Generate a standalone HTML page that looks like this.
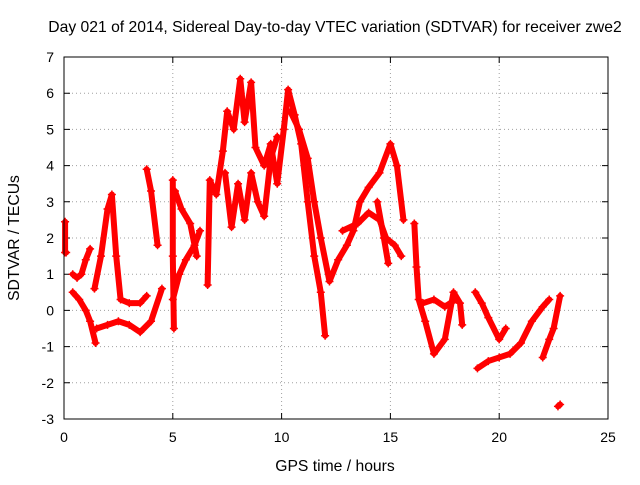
<!DOCTYPE html>
<html><head><meta charset="utf-8"><style>
body{margin:0;background:#fff}
svg text{font-family:"Liberation Sans",sans-serif;font-size:14px;fill:#000}
svg text.big{font-size:15.7px}
</style></head><body>
<svg id="chart" width="640" height="480" xmlns="http://www.w3.org/2000/svg">
<rect width="640" height="480" fill="#fff"/>
<text class="big" x="335" y="32" text-anchor="middle">Day 021 of 2014, Sidereal Day-to-day VTEC variation (SDTVAR) for receiver zwe2</text>
<text class="big" x="335" y="471" text-anchor="middle">GPS time / hours</text>
<text class="big" transform="translate(19,238) rotate(-90)" text-anchor="middle">SDTVAR / TECUs</text>
<g id="grid"></g><g id="ticks"></g><g id="marks"></g>
<rect x="64" y="57" width="544" height="362" fill="none" stroke="#000" stroke-width="1"/>
</svg>
<script>
const xTicks=[0,5,10,15,20,25];
const yTicks=[-3,-2,-1,0,1,2,3,4,5,6,7];
const track1=[[0.05,2.45],[0.05,1.6],[0.1,1.6]];
const track2=[[0.4,1.0],[0.6,0.9],[0.8,1.0],[1.0,1.4],[1.2,1.7]];
const track3=[[0.4,0.5],[0.7,0.3],[1.0,0.0],[1.2,-0.3],[1.45,-0.9]];
const track4=[[1.5,-0.5],[2.0,-0.4],[2.5,-0.3],[3.0,-0.4],[3.5,-0.6],[4.0,-0.3],[4.5,0.6]];
const track5=[[1.4,0.6],[1.7,1.5],[2.0,2.8],[2.2,3.2],[2.4,1.5],[2.6,0.3],[3.0,0.2],[3.5,0.2],[3.8,0.4]];
const track6=[[3.8,3.9],[4.0,3.3],[4.3,1.8]];
const track7=[[5.0,3.6],[5.0,1.5],[5.05,-0.5]];
const track8=[[5.0,0.3],[5.3,1.0],[5.6,1.4],[6.0,1.8],[6.25,2.2]];
const track9=[[5.1,3.3],[5.4,2.8],[5.8,2.4],[6.1,1.5]];
const track10=[[6.6,0.7],[6.7,3.6],[7.0,3.2],[7.3,4.4],[7.5,5.5],[7.8,5.0],[8.1,6.4],[8.3,5.2],[8.6,6.3],[8.8,4.5],[9.2,4.0],[9.5,4.6],[9.8,3.5],[10.1,5.0],[10.3,6.1],[10.6,5.4],[10.9,4.6],[11.2,3.0],[11.5,1.5],[11.8,0.5],[12.0,-0.7]];
const track11=[[7.4,3.8],[7.7,2.3],[8.0,3.5],[8.3,2.5],[8.6,3.8],[8.9,3.0],[9.2,2.6],[9.5,4.2],[9.8,4.8]];
const track12=[[10.4,5.5],[10.8,5.0],[11.2,4.2],[11.5,3.0],[11.8,2.0],[12.2,0.8],[12.6,1.4],[13.0,1.8],[13.3,2.2],[13.6,3.0],[14.0,3.4],[14.5,3.8],[15.0,4.6],[15.3,4.0],[15.6,2.5]];
const track13=[[12.8,2.2],[13.5,2.4],[14.0,2.7],[14.5,2.5],[14.8,2.0],[15.2,1.8],[15.5,1.5]];
const track14=[[14.4,3.0],[14.7,2.0],[14.9,1.3]];
const track15=[[16.1,2.4],[16.2,1.2],[16.3,0.3],[16.6,-0.3],[17.0,-1.2],[17.5,-0.8],[17.9,0.5],[18.2,0.2],[18.3,-0.4]];
const track16=[[16.5,0.2],[17.0,0.3],[17.5,0.1],[18.0,0.3]];
const track17=[[19.0,-1.6],[19.5,-1.4],[20.0,-1.3],[20.5,-1.2],[21.0,-0.9],[21.5,-0.3],[22.0,0.1],[22.3,0.3]];
const track18=[[18.9,0.5],[19.2,0.2],[19.5,-0.2],[20.0,-0.8],[20.3,-0.5]];
const track19=[[22.0,-1.3],[22.3,-0.8],[22.5,-0.5],[22.8,0.4]];
const track20=[[22.7,-2.65],[22.8,-2.6]];
const tracks=[track1,track2,track3,track4,track5,track6,track7,track8,track9,track10,track11,track12,track13,track14,track15,track16,track17,track18,track19,track20];
const NS='http://www.w3.org/2000/svg';
const X=t=>64+t*(544/25);
const Y=v=>419-(v+3)*(362/10);
const grid=document.getElementById('grid'),ticks=document.getElementById('ticks'),marks=document.getElementById('marks');
function mk(tag,at,parent){const e=document.createElementNS(NS,tag);for(const k in at)e.setAttribute(k,at[k]);parent.appendChild(e);return e;}
xTicks.forEach(t=>{
  if(t>0&&t<25){const g=mk('line',{x1:X(t),x2:X(t),y1:57,y2:419,stroke:'#a0a0a0','stroke-dasharray':'1,3'},grid);
  
  }
  const tk=mk('path',{d:`M${X(t)},419v-6M${X(t)},57v6`,stroke:'#000'},ticks);
  
  
  const l=mk('text',{x:X(t),y:442,'text-anchor':'middle'},ticks);l.textContent=t;
  
  
});
yTicks.forEach(v=>{
  if(v>-3&&v<7){const g=mk('line',{x1:64,x2:608,y1:Y(v),y2:Y(v),stroke:'#a0a0a0','stroke-dasharray':'1,3'},grid);
  
  }
  const tk=mk('path',{d:`M64,${Y(v)}h6M608,${Y(v)}h-6`,stroke:'#000'},ticks);
  
  
  const l=mk('text',{x:54,y:Y(v)+5,'text-anchor':'end'},ticks);l.textContent=v;
  
  
});
tracks.forEach((tr,i)=>{
  const pl=mk('polyline',{points:tr.map(p=>X(p[0])+','+Y(p[1])).join(' '),fill:'none',stroke:'#ff0000','stroke-width':6,'stroke-linejoin':'round','stroke-linecap':'round'},marks);
  
  
  tr.forEach(p=>{
    const m=mk('path',{d:`M${X(p[0])-4},${Y(p[1])}h8M${X(p[0])},${Y(p[1])-4}v8`,stroke:'#ff0000','stroke-width':1.5},marks);
    
    
  });
});
</script>
</body></html>
